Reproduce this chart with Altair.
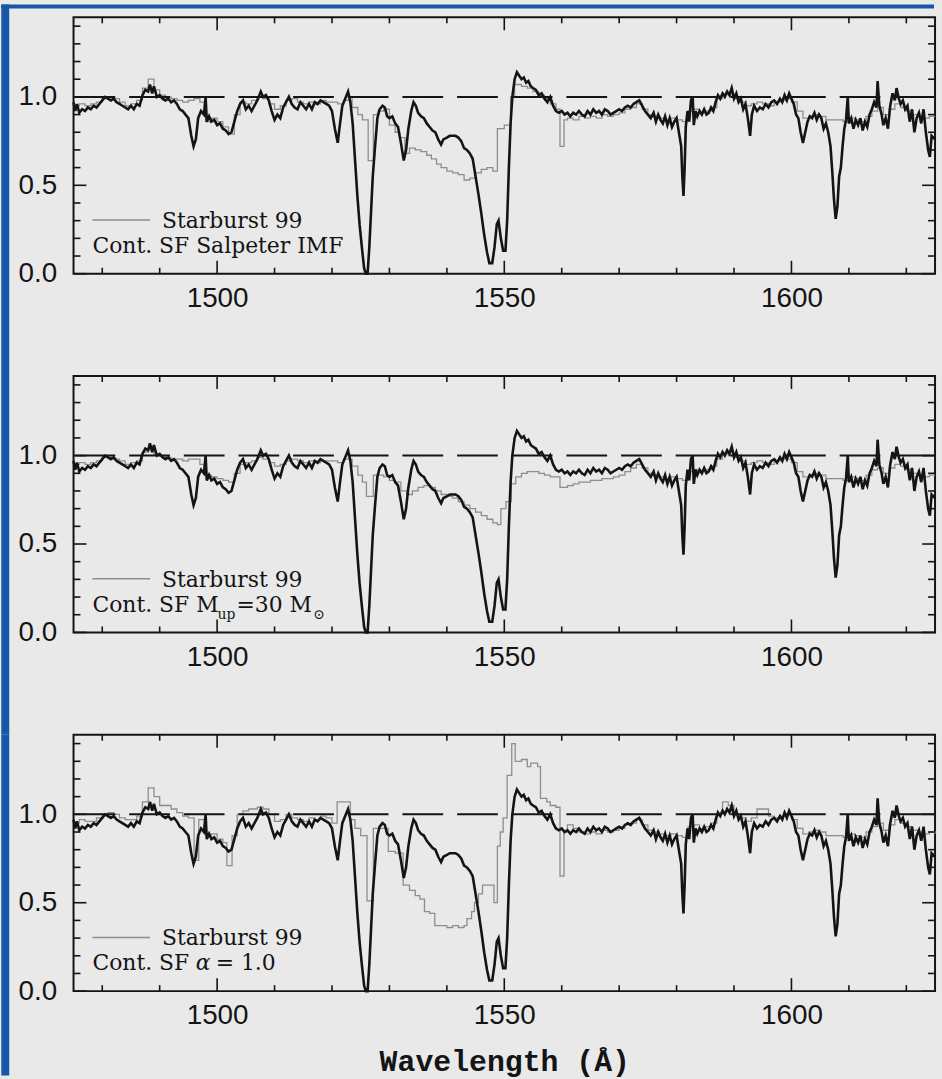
import altair as alt
import pandas as pd

# ---------------- observed spectrum (black, same in all panels) ----------------
wl_obs = [
    1475.0, 1475.3, 1475.6, 1476.0, 1476.5, 1477.0, 1477.5, 1478.0, 1478.5, 1479.0,
    1479.5, 1480.0, 1480.5, 1481.0, 1481.5, 1482.0, 1482.5, 1483.0, 1483.5, 1484.0,
    1484.5, 1485.0, 1485.5, 1486.0, 1486.5, 1487.0, 1487.5, 1488.0, 1488.3, 1488.7,
    1489.0, 1489.5, 1490.0, 1490.5, 1491.0, 1491.5, 1492.0, 1492.5, 1493.0, 1493.5,
    1494.0, 1494.5, 1495.0, 1495.5, 1495.9, 1496.3, 1496.7, 1497.2, 1497.7, 1498.0,
    1498.2, 1498.6, 1499.0, 1499.5, 1500.0, 1500.5, 1501.0, 1501.5, 1502.0, 1502.5,
    1503.0, 1503.5, 1504.0, 1504.5, 1505.0, 1505.5, 1506.0, 1506.5, 1507.0, 1507.6,
    1508.0, 1508.5, 1509.0, 1509.5, 1510.0, 1510.5, 1511.0, 1511.5, 1512.0, 1512.5,
    1513.0, 1513.5, 1514.0, 1514.5, 1515.0, 1515.5, 1516.0, 1516.5, 1517.0, 1517.5,
    1518.0, 1518.5, 1519.0, 1519.5, 1520.0, 1520.5, 1521.0, 1521.4, 1521.8, 1522.3,
    1522.8, 1523.2, 1523.6, 1524.0, 1524.4, 1524.8, 1525.2, 1525.6, 1525.9, 1526.2,
    1526.5, 1526.8, 1527.1, 1527.5, 1527.9, 1528.3, 1528.8, 1529.2, 1529.6, 1530.0,
    1530.5, 1531.0, 1531.5, 1532.0, 1532.5, 1532.9, 1533.3, 1533.8, 1534.2, 1534.6,
    1535.0, 1535.5, 1536.0, 1536.5, 1537.0, 1537.5, 1538.0, 1538.5, 1539.0, 1539.4,
    1540.0, 1540.5, 1541.0, 1541.5, 1542.0, 1542.5, 1543.0, 1543.5, 1544.0, 1544.5,
    1545.0, 1545.5, 1546.0, 1546.5, 1547.0, 1547.4, 1547.9, 1548.3, 1548.7, 1549.0,
    1549.4, 1549.8, 1550.2, 1550.5, 1550.8, 1551.1, 1551.4, 1551.8, 1552.2, 1552.6,
    1553.0, 1553.4, 1553.8, 1554.2, 1554.6, 1555.0, 1555.5, 1556.0, 1556.5, 1557.0,
    1557.5, 1558.0, 1558.5, 1559.0, 1559.5, 1560.0, 1560.5, 1561.0, 1561.5, 1562.0,
    1562.5, 1563.0, 1563.5, 1564.0, 1564.5, 1565.0, 1565.5, 1566.0, 1566.5, 1567.0,
    1567.5, 1568.0, 1568.5, 1569.0, 1569.5, 1570.0, 1570.5, 1571.0, 1571.5, 1572.0,
    1572.5, 1573.0, 1573.5, 1574.0, 1574.5, 1575.0, 1575.5, 1576.0, 1576.4, 1576.8,
    1577.2, 1577.6, 1578.0, 1578.4, 1578.8, 1579.2, 1579.6, 1580.0, 1580.4, 1580.8,
    1581.0, 1581.2, 1581.4, 1581.6, 1581.9, 1582.2, 1582.5, 1582.8, 1583.0, 1583.3,
    1583.6, 1584.0, 1584.4, 1584.8, 1585.2, 1585.6, 1586.0, 1586.4, 1586.8, 1587.2,
    1587.6, 1588.0, 1588.4, 1588.8, 1589.2, 1589.6, 1590.0, 1590.4, 1590.8, 1591.2,
    1591.6, 1592.0, 1592.4, 1592.8, 1593.1, 1593.5, 1594.0, 1594.5, 1595.0, 1595.5,
    1596.0, 1596.5, 1597.0, 1597.5, 1598.0, 1598.4, 1598.8, 1599.2, 1599.6, 1600.0,
    1600.4, 1600.8, 1601.2, 1601.6, 1602.0, 1602.4, 1602.8, 1603.2, 1603.6, 1604.0,
    1604.4, 1604.8, 1605.2, 1605.6, 1606.0, 1606.4, 1606.8, 1607.1, 1607.4, 1607.7,
    1608.0, 1608.3, 1608.6, 1608.9, 1609.2, 1609.5, 1609.8, 1610.0, 1610.4, 1610.8,
    1611.2, 1611.6, 1612.0, 1612.4, 1612.8, 1613.2, 1613.6, 1614.0, 1614.4, 1614.8,
    1615.0, 1615.3, 1615.7, 1616.0, 1616.4, 1616.8, 1617.2, 1617.6, 1618.0, 1618.3,
    1618.7, 1619.0, 1619.4, 1619.8, 1620.2, 1620.6, 1621.0, 1621.4, 1621.8, 1622.2,
    1622.6, 1623.0, 1623.4, 1623.8, 1624.1, 1624.4, 1625.0,
]
flux_obs = [
    0.97, 0.92, 0.96, 0.91, 0.93, 0.92, 0.94, 0.93, 0.95, 0.94,
    0.96, 0.98, 1.00, 0.99, 0.98, 0.99, 0.97, 0.96, 0.95, 0.94,
    0.93, 0.95, 0.93, 0.96, 0.95, 1.01, 1.04, 1.03, 1.07, 1.02,
    1.06, 1.00, 1.01, 0.99, 0.98, 0.99, 0.97, 0.98, 0.96, 0.93,
    0.92, 0.90, 0.88, 0.78, 0.72, 0.76, 0.88, 0.92, 0.90, 1.00,
    0.86, 0.89, 0.86, 0.87, 0.84, 0.85, 0.82, 0.81, 0.79, 0.80,
    0.86, 0.92, 0.96, 0.98, 0.93, 0.95, 0.92, 0.95, 0.98, 1.03,
    1.00, 1.01, 0.98, 0.92, 0.87, 0.90, 0.88, 0.94, 0.97, 1.00,
    0.96, 0.94, 0.93, 0.97, 0.95, 0.93, 0.96, 0.93, 0.97, 0.96,
    0.98, 0.97, 0.96, 0.95, 0.92, 0.82, 0.74, 0.85, 0.95, 0.99,
    1.03, 0.97, 0.85, 0.65, 0.45, 0.28, 0.15, 0.03, 0.00, 0.00,
    0.15, 0.35, 0.55, 0.72, 0.88, 0.93, 0.95, 0.94, 0.89, 0.88,
    0.89, 0.85, 0.83, 0.74, 0.64, 0.70, 0.82, 0.92, 0.97, 0.95,
    0.91, 0.89, 0.88, 0.85, 0.83, 0.81, 0.80, 0.76, 0.73, 0.76,
    0.77, 0.78, 0.78, 0.78, 0.77, 0.75, 0.71, 0.70, 0.68, 0.65,
    0.55, 0.45, 0.34, 0.22, 0.12, 0.06, 0.06, 0.15, 0.28, 0.30,
    0.20, 0.13, 0.13, 0.30, 0.60, 0.85, 1.00, 1.10, 1.14, 1.12,
    1.10, 1.11, 1.08, 1.09, 1.06, 1.05, 1.04, 1.01, 1.02, 0.99,
    0.97, 1.00, 0.95, 0.92, 0.91, 0.92, 0.90, 0.91, 0.89, 0.91,
    0.90, 0.92, 0.90, 0.89, 0.92, 0.90, 0.93, 0.91, 0.92, 0.90,
    0.93, 0.92, 0.90, 0.91, 0.92, 0.93, 0.92, 0.94, 0.95, 0.94,
    0.96, 0.97, 0.98, 0.95, 0.92, 0.90, 0.88, 0.91, 0.86, 0.90,
    0.87, 0.85, 0.89, 0.84, 0.88, 0.83, 0.86, 0.88, 0.80, 0.72,
    0.55, 0.44, 0.60, 0.83, 0.92, 0.86, 0.98, 1.00, 0.84, 0.92,
    0.89, 0.92, 0.90, 0.93, 0.90, 0.91, 0.94, 0.92, 0.97, 1.01,
    0.99, 1.02, 1.00, 1.03, 1.01, 1.05, 0.99, 1.02, 0.97, 0.99,
    0.93, 0.96, 0.88, 0.78, 0.90, 0.95, 0.92, 0.94, 0.93, 0.96,
    0.94, 0.97, 0.98, 0.96, 0.99, 0.97, 1.01, 0.98, 1.02, 0.99,
    0.96, 0.90, 0.88, 0.80, 0.74, 0.80, 0.86, 0.89, 0.88, 0.91,
    0.87, 0.90, 0.88, 0.82, 0.85, 0.80, 0.72, 0.58, 0.42, 0.31,
    0.38, 0.55, 0.60, 0.72, 0.82, 0.87, 1.00, 0.85, 0.88, 0.82,
    0.87, 0.84, 0.88, 0.81, 0.86, 0.83, 0.90, 0.93, 0.97, 0.94,
    1.09, 0.95, 0.90, 0.84, 0.88, 0.82, 0.95, 1.02, 0.98, 1.05,
    0.99, 0.96, 0.98, 0.93, 0.95, 0.86, 0.93, 0.80, 0.88, 0.91,
    0.85, 0.93, 0.80, 0.70, 0.66, 0.78, 0.76,
]

# ---------------- Starburst 99 models (grey step lines) ----------------
# panel 1: continuous SF, Salpeter IMF
wl_m1 = [
    1475, 1476, 1477, 1478, 1479, 1480, 1481, 1482, 1483, 1484, 1485, 1486, 1487, 1488,
    1489, 1490, 1491, 1492, 1493, 1494, 1495, 1496, 1497, 1498, 1499, 1500, 1501, 1502,
    1503, 1504, 1505, 1506, 1507, 1508, 1509, 1510, 1511, 1512, 1513, 1514, 1515, 1516,
    1517, 1518, 1519, 1520, 1521, 1522, 1523, 1523.5, 1524.5, 1525.3, 1526.3, 1527.2,
    1528, 1529, 1530, 1531, 1531.8, 1532.7, 1533.5, 1534.5, 1535.5, 1536.5, 1537.3,
    1538.2, 1539, 1540, 1541, 1542, 1543, 1544, 1545, 1546, 1547, 1548, 1548.8, 1550,
    1551.1, 1551.8, 1553, 1554, 1555, 1556, 1557, 1558, 1559, 1559.7, 1560.4,
]
flux_m1 = [
    0.95, 0.96, 0.95, 0.96, 0.97, 0.99, 1.00, 0.99, 0.97, 0.95, 0.96, 0.98, 1.05, 1.10,
    1.04, 1.01, 1.00, 0.99, 0.98, 0.97, 0.98, 0.99, 0.97, 0.86, 0.88, 0.86, 0.83, 0.79,
    0.90, 0.97, 0.96, 0.98, 1.00, 0.99, 0.96, 0.93, 0.95, 0.98, 0.99, 0.97, 0.96, 0.97,
    0.96, 0.98, 0.97, 0.97, 0.96, 0.98, 1.00, 0.94, 0.90, 0.87, 0.64, 0.90,
    0.92, 0.93, 0.84, 0.80, 0.77, 0.68, 0.71, 0.70, 0.69, 0.67, 0.65,
    0.62, 0.60, 0.58, 0.57, 0.56, 0.53, 0.54, 0.57, 0.59, 0.60, 0.58, 0.82, 0.84,
    1.00, 1.07, 1.06, 1.05, 1.03, 1.01, 0.99, 0.96, 0.93, 0.72, 0.87,
]
# panel 2: continuous SF, M_up = 30 Msun
wl_m2 = [
    1475, 1476, 1477, 1478, 1479, 1480, 1481, 1482, 1483, 1484, 1485, 1486, 1487, 1488,
    1489, 1490, 1491, 1492, 1493, 1494, 1495, 1496, 1497, 1498, 1499, 1500, 1501, 1502,
    1503, 1504, 1505, 1506, 1507, 1508, 1509, 1510, 1511, 1512, 1513, 1514, 1515, 1516,
    1517, 1518, 1519, 1520, 1521, 1522, 1523, 1523.5, 1524.5, 1525.3, 1526, 1527.2,
    1528, 1529, 1530, 1531, 1532, 1533, 1534, 1535, 1536, 1537, 1538, 1539, 1540,
    1541, 1542, 1543, 1544, 1545, 1546, 1547, 1548, 1548.8, 1549.4, 1550.3, 1551.2,
    1552, 1553, 1554, 1555, 1556, 1557, 1558, 1559, 1559.7, 1560.4,
]
flux_m2 = [
    0.95, 0.96, 0.95, 0.96, 0.97, 0.99, 0.99, 0.98, 0.97, 0.95, 0.96, 0.97, 1.02, 1.04,
    1.01, 1.00, 0.99, 0.98, 0.98, 0.97, 0.98, 0.98, 0.95, 0.89, 0.88, 0.87, 0.86, 0.85,
    0.90, 0.95, 0.96, 0.97, 0.99, 0.98, 0.96, 0.94, 0.95, 0.97, 0.98, 0.97, 0.96, 0.97,
    0.96, 0.97, 0.97, 0.97, 0.96, 0.98, 0.98, 0.94, 0.89, 0.85, 0.77, 0.89,
    0.89, 0.88, 0.86, 0.85, 0.80, 0.78, 0.80, 0.82, 0.83, 0.82, 0.80, 0.78, 0.77,
    0.76, 0.74, 0.72, 0.70, 0.68, 0.66, 0.64, 0.62, 0.61, 0.70, 0.74, 0.84,
    0.88, 0.90, 0.91, 0.91, 0.90, 0.89, 0.88, 0.88, 0.82, 0.82,
]
# panel 3: continuous SF, IMF slope alpha = 1.0
wl_m3 = [
    1475, 1476, 1477, 1478, 1479, 1480, 1481, 1482, 1483, 1484, 1485, 1486, 1487, 1488,
    1489, 1490, 1491, 1492, 1493, 1494, 1495, 1496, 1496.8, 1498, 1499, 1500, 1501,
    1501.7, 1502.6, 1503.5, 1504.5, 1505.5, 1507, 1508, 1509, 1510, 1511, 1512, 1513,
    1514, 1515, 1516, 1517, 1518, 1519, 1520, 1520.9, 1523.2, 1524, 1525, 1526.1, 1527.2,
    1529.8, 1531, 1532.4, 1533.5, 1534.5, 1535.3, 1536.1, 1537, 1537.9, 1539, 1540,
    1541, 1542, 1543, 1543.5, 1544.3, 1544.8, 1545.5, 1546.2, 1547.2, 1548.2, 1548.8,
    1549.3, 1549.8, 1550.5, 1551.3, 1551.9, 1553, 1554, 1554.6, 1555.8, 1556.3, 1557.4,
    1558, 1559, 1559.7, 1560.4,
]
flux_m3 = [
    0.95, 0.97, 0.96, 0.96, 0.98, 1.00, 1.01, 1.00, 0.98, 0.97, 0.97, 0.99, 1.07, 1.15,
    1.10, 1.05, 1.05, 1.03, 1.01, 0.99, 0.98, 0.74, 0.97, 0.88, 0.89, 0.86, 0.84,
    0.71, 0.88, 1.00, 1.02, 1.03, 1.04, 1.03, 1.00, 0.96, 0.97, 1.00, 0.98,
    0.97, 0.96, 0.98, 0.97, 0.99, 0.98, 0.95, 1.07, 0.97, 0.92, 0.88, 0.51, 0.92,
    0.79, 0.78, 0.60, 0.57, 0.54, 0.52, 0.45, 0.44, 0.37, 0.37, 0.36,
    0.37, 0.36, 0.37, 0.41, 0.45, 0.50, 0.55, 0.60, 0.60, 0.50, 0.82,
    0.90, 0.98, 1.22, 1.40, 1.30, 1.31, 1.27, 1.29, 1.27, 1.09, 1.07,
    1.05, 1.04, 0.65, 0.90,
]
# red part of the models (1561-1625 A)
wl_red = [
    1561, 1562, 1563, 1564, 1565, 1566, 1567, 1568, 1569, 1570, 1571, 1572, 1573, 1574,
    1575, 1576, 1577, 1578, 1579, 1580, 1581, 1582, 1583, 1584, 1585, 1586, 1587, 1588,
    1589, 1590, 1591, 1592, 1593, 1594, 1595, 1596, 1597, 1598, 1599, 1600, 1601, 1602,
    1603, 1604, 1605, 1606, 1607, 1608, 1609, 1610, 1611, 1612, 1613, 1614, 1615, 1616,
    1617, 1618, 1619, 1620, 1621, 1622, 1623, 1624, 1625,
]
flux_red1 = [
    0.88, 0.87, 0.89, 0.88, 0.89, 0.88, 0.90, 0.89, 0.90, 0.91, 0.93, 0.94, 0.96, 0.93,
    0.90, 0.89, 0.88, 0.87, 0.88, 0.87, 0.86, 0.92, 0.93, 0.91, 0.92, 0.94, 0.99, 1.02,
    1.01, 0.99, 0.97, 0.95, 0.96, 0.97, 0.96, 0.95, 0.97, 0.98, 0.99, 0.97, 0.92, 0.88,
    0.89, 0.90, 0.89, 0.87, 0.87, 0.87, 0.86, 0.88, 0.87, 0.86, 0.89, 0.92, 0.94, 0.90,
    0.93, 0.96, 0.94, 0.92, 0.90, 0.89, 0.88, 0.89, 0.89,
]
flux_red2 = [
    0.83, 0.84, 0.85, 0.85, 0.86, 0.86, 0.87, 0.87, 0.88, 0.89, 0.91, 0.93, 0.95, 0.93,
    0.90, 0.89, 0.88, 0.87, 0.88, 0.87, 0.86, 0.91, 0.92, 0.91, 0.92, 0.94, 0.98, 1.01,
    1.00, 0.99, 0.97, 0.95, 0.96, 0.97, 0.96, 0.95, 0.97, 0.98, 0.98, 0.96, 0.91, 0.88,
    0.89, 0.90, 0.89, 0.87, 0.87, 0.87, 0.86, 0.88, 0.87, 0.86, 0.89, 0.92, 0.93, 0.90,
    0.93, 0.95, 0.94, 0.92, 0.90, 0.89, 0.88, 0.89, 0.89,
]
flux_red3 = [
    0.94, 0.92, 0.90, 0.89, 0.90, 0.89, 0.91, 0.90, 0.91, 0.92, 0.94, 0.95, 0.97, 0.94,
    0.91, 0.90, 0.89, 0.88, 0.89, 0.88, 0.87, 0.93, 0.94, 0.92, 0.93, 0.95, 1.00, 1.07,
    1.05, 1.00, 0.98, 0.96, 0.98, 1.03, 1.03, 0.99, 0.98, 0.99, 1.00, 0.97, 0.92, 0.89,
    0.90, 0.91, 0.90, 0.88, 0.88, 0.88, 0.87, 0.89, 0.88, 0.87, 0.90, 0.93, 0.95, 0.91,
    0.94, 0.97, 0.95, 0.93, 0.91, 0.90, 0.89, 0.90, 0.89,
]

# axis ticks and reference level
x_major = [1500, 1550, 1600]
x_minor = [1480, 1490, 1510, 1520, 1530, 1540, 1560, 1570, 1580, 1590, 1610, 1620]
y_major = [0.0, 0.5, 1.0]
y_minor = [0.1, 0.2, 0.3, 0.4, 0.6, 0.7, 0.8, 0.9, 1.1, 1.2, 1.3, 1.4]
continuum = [1.0]

# ---------------- styling ----------------
W, H = 867, 258
GAP = 103
BG = "#e9e9e9"
BLUE = "#1757a8"
INK = "#141414"
GREY = "#8d8d8d"
LEG_FONT = "DejaVu Serif"

obs_df = pd.DataFrame({"wl": wl_obs, "flux": flux_obs})
one = pd.DataFrame({"k": [0]})


def panel(m_wl, m_flux, legend_pieces, strip_top, strip_bottom, bottom, top_strip):
    xsc = alt.Scale(domain=[1475, 1625], nice=False, zero=False)
    ysc = alt.Scale(domain=[0, 1.45], nice=False, zero=False)
    ax_kw = dict(values=x_major, format="d", ticks=False, domain=False, grid=False,
                 labelFont="Liberation Sans", labelFontSize=28, labelColor=INK,
                 labelPadding=11, title="")
    if bottom:
        ax_kw.update(title="Wavelength (Å)", titleFont="Liberation Mono",
                     titleFontSize=30, titleFontWeight="bold", titleColor=INK,
                     titlePadding=17)
    xaxis = alt.Axis(**ax_kw)
    yaxis = alt.Axis(values=y_major, format=".1f", ticks=False, domain=False, grid=False,
                     labelFont="Liberation Sans", labelFontSize=28, labelColor=INK,
                     labelPadding=17, title="")
    xe = alt.X("wl:Q", scale=xsc, axis=xaxis)
    ye = alt.Y("flux:Q", scale=ysc, axis=yaxis)

    model_df = pd.DataFrame({"wl": m_wl, "flux": m_flux})

    layers = []
    # slide decoration: blue strip at the left (and top)
    layers.append(alt.Chart(one).mark_rect(color=BLUE).encode(
        x=alt.value(-72.7), x2=alt.value(-64.7), y=alt.value(strip_top), y2=alt.value(strip_bottom)))
    if top_strip:
        layers.append(alt.Chart(one).mark_rect(color=BLUE).encode(
            x=alt.value(-72.7), x2=alt.value(W - 1), y=alt.value(-13), y2=alt.value(-9)))

    layers.append(alt.Chart(model_df).mark_line(interpolate="step-after", color=GREY,
                                                strokeWidth=1.3).encode(x=xe, y=ye))
    layers.append(alt.Chart(obs_df).mark_line(color=INK, strokeWidth=2.6,
                                              strokeJoin="miter").encode(x=xe, y=ye))
    layers.append(alt.Chart(pd.DataFrame({"flux": continuum})).mark_rule(
        color=INK, strokeWidth=2, strokeDash=[41, 14]).encode(y=ye))

    # inward ticks on all four sides
    xmaj = pd.DataFrame({"wl": x_major})
    xmin = pd.DataFrame({"wl": x_minor})
    ymaj = pd.DataFrame({"flux": y_major})
    ymin = pd.DataFrame({"flux": y_minor})
    tk = dict(color=INK, strokeWidth=1.6)
    layers += [
        alt.Chart(xmaj).mark_rule(**tk).encode(x=xe, y=alt.value(H), y2=alt.value(H - 13)),
        alt.Chart(xmin).mark_rule(**tk).encode(x=xe, y=alt.value(H), y2=alt.value(H - 6)),
        alt.Chart(xmaj).mark_rule(**tk).encode(x=xe, y=alt.value(0), y2=alt.value(13)),
        alt.Chart(xmin).mark_rule(**tk).encode(x=xe, y=alt.value(0), y2=alt.value(6)),
        alt.Chart(ymaj).mark_rule(**tk).encode(y=ye, x=alt.value(0), x2=alt.value(13)),
        alt.Chart(ymin).mark_rule(**tk).encode(y=ye, x=alt.value(0), x2=alt.value(7)),
        alt.Chart(ymaj).mark_rule(**tk).encode(y=ye, x=alt.value(W), x2=alt.value(W - 13)),
        alt.Chart(ymin).mark_rule(**tk).encode(y=ye, x=alt.value(W), x2=alt.value(W - 7)),
    ]

    # legend
    layers.append(alt.Chart(one).mark_rule(color=GREY, strokeWidth=1.6).encode(
        x=alt.value(19), x2=alt.value(77), y=alt.value(204)))
    for text, px, py, size, style in legend_pieces:
        layers.append(alt.Chart(one).mark_text(
            align="left", baseline="alphabetic", font=LEG_FONT, fontSize=size,
            fontStyle=style, color=INK).encode(
            x=alt.value(px), y=alt.value(py), text=alt.value(text)))

    return alt.layer(*layers).properties(width=W, height=H)


leg1 = [("Starburst 99", 89, 212, 22, "normal"),
        ("Cont. SF Salpeter IMF", 19, 237, 22, "normal")]
leg2 = [("Starburst 99", 89, 212, 22, "normal"),
        ("Cont. SF M", 19, 237, 22, "normal"),
        ("up", 145, 244, 14, "normal"),
        ("=30 M", 164, 237, 22, "normal"),
        ("⊙", 241, 244, 14, "normal")]
leg3 = [("Starburst 99", 89, 212, 22, "normal"),
        ("Cont. SF", 19, 237, 22, "normal"),
        ("α", 123, 237, 22, "italic"),
        ("= 1.0", 143, 237, 22, "normal")]

p1 = panel(wl_m1 + wl_red, flux_m1 + flux_red1, leg1, -13, H + GAP, False, True)
p2 = panel(wl_m2 + wl_red, flux_m2 + flux_red2, leg2, 0, H + GAP, False, False)
p3 = panel(wl_m3 + wl_red, flux_m3 + flux_red3, leg3, 0, 1078 - 735, True, False)

chart = alt.vconcat(p1, p2, p3, spacing=GAP, bounds="flush").configure(
    background=BG, padding=0
).configure_view(stroke=INK, strokeWidth=2)

chart.save("out.html", embed_options={"renderer": "svg", "actions": False})
